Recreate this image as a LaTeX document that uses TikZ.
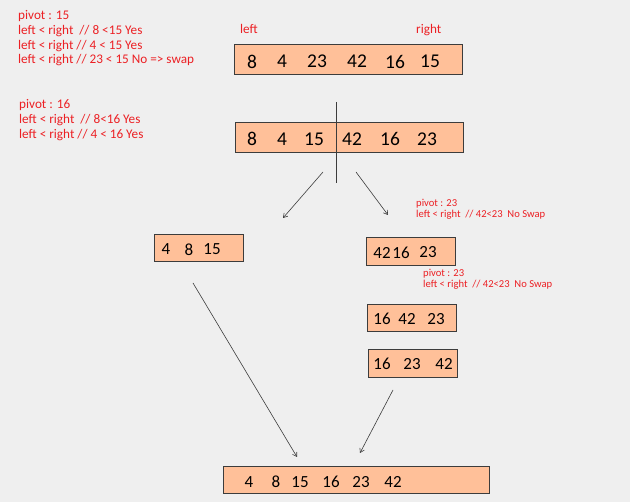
\documentclass[tikz,border=0pt]{standalone}
\usepackage{fontspec}
\setmainfont{Carlito}
\usetikzlibrary{arrows.meta}

\definecolor{paper}{RGB}{239,239,239}
\definecolor{peach}{RGB}{255,192,153}
\definecolor{pen}{RGB}{236,32,36}
\definecolor{ink}{RGB}{60,60,60}

\tikzset{
  row/.style={draw=ink, fill=peach, line width=0.9pt, inner sep=0pt},
  num/.style={font=\fontsize{19.5}{19.5}\selectfont, inner sep=0pt},
  snum/.style={font=\fontsize{17}{17}\selectfont, inner sep=0pt},
  note/.style={text=pen, anchor=north west, align=left, inner sep=0pt,
    font=\fontsize{13.2}{14.9}\selectfont},
  smallnote/.style={note, font=\fontsize{10.6}{11.3}\selectfont},
  link/.style={draw=ink, line width=0.6pt, -{Straight Barb[length=4pt,width=5pt]}},
}

\begin{document}
\begin{tikzpicture}[x=1pt,y=-1pt]
\useasboundingbox[fill=paper] (0,0) rectangle (630,502);

% notes
\node[note] (n1) at (18,10) {pivot : 15\\left < right~ // 8 <15 Yes\\left < right // 4 < 15 Yes\\left < right // 23 < 15 No => swap};
\node[note] (n2) at (19,99) {pivot : 16\\left < right~ // 8<16 Yes\\left < right // 4 < 16 Yes};
\node[note, anchor=base west] (lft) at (240,34) {left};
\node[note, anchor=base west] (rgt) at (416,34) {right};
\node[smallnote] (n3) at (416,199) {pivot : 23\\left < right~ // 42<23~ No Swap};
\node[smallnote] (n4) at (423,269) {pivot : 23\\left < right~ // 42<23~ No Swap};

% arrays
\node[row, minimum width=228pt, minimum height=30pt] (r1) at (348,59) {};
\foreach \x/\v in {252/8,282/4,317/23,357/42,395/16,430/15}
  \node[num] (r1-\x) at (\x,61.5) {\v};

\node[row, minimum width=228pt, minimum height=30pt] (r2) at (349,137) {};
\foreach \x/\v in {252/8,282/4,314/15,352/42,390/16,427/23}
  \node[num] (r2-\x) at (\x,139) {\v};

\node[row, minimum width=89pt, minimum height=27pt] (lo) at (198.5,247.5) {};
\foreach \x/\v in {166/4,189/8,212/15}
  \node[snum] (lo-\x) at (\x,249.5) {\v};

\node[row, minimum width=89pt, minimum height=28pt] (hi1) at (410.5,251) {};
\foreach \x/\v in {382/42,401/16,428/23}
  \node[snum] (hi1-\x) at (\x,252.5) {\v};

\node[row, minimum width=89pt, minimum height=27pt] (hi2) at (411.5,317.5) {};
\foreach \x/\v in {382/16,407/42,436/23}
  \node[snum] (hi2-\x) at (\x,319) {\v};

\node[row, minimum width=89pt, minimum height=28pt] (hi3) at (412.5,363) {};
\foreach \x/\v in {382/16,412/23,444/42}
  \node[snum] (hi3-\x) at (\x,364) {\v};

\node[row, minimum width=266pt, minimum height=27pt] (done) at (356,479.5) {};
\foreach \x/\v in {249/4,276/8,300/15,331/16,361/23,393/42}
  \node[snum] (done-\x) at (\x,482) {\v};

% split and arrows
\coordinate (cut-a) at (336,102);
\coordinate (cut-b) at (336,183);
\draw[ink, line width=0.9pt] (cut-a) -- (cut-b);

\coordinate (sl) at (323,172);
\coordinate (sl-end) at (283,218);
\coordinate (sr) at (356,172);
\coordinate (sr-end) at (388,215);
\coordinate (ml) at (193,283);
\coordinate (ml-end) at (297,457);
\coordinate (mr) at (393,390);
\coordinate (mr-end) at (360,453);
\draw[link] (sl) -- (sl-end);
\draw[link] (sr) -- (sr-end);
\draw[link] (ml) -- (ml-end);
\draw[link] (mr) -- (mr-end);
\end{tikzpicture}
\end{document}
